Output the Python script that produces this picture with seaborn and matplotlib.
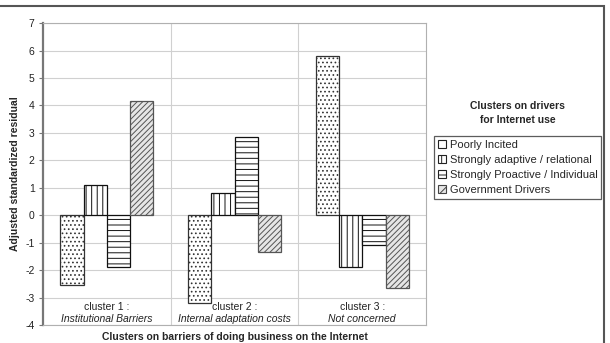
import numpy as np
import pandas as pd
import matplotlib
matplotlib.use('Agg')
import matplotlib.pyplot as plt
import seaborn as sns
from matplotlib.patches import Patch, Rectangle

# chart data
clusters = ['cluster 1', 'cluster 2', 'cluster 3']
cluster_names = ['Institutional Barriers', 'Internal adaptation costs', 'Not concerned']
drivers = ['Poorly Incited', 'Strongly adaptive / relational',
           'Strongly Proactive / Individual', 'Government Drivers']
poorly_incited = [-2.55, -3.2, 5.8]
strongly_adaptive = [1.1, 0.8, -1.9]
strongly_proactive = [-1.9, 2.85, -1.07]
government_drivers = [4.15, -1.35, -2.67]
y_ticks = list(range(-4, 8))

# long table for seaborn
rows = []
for name, vals in zip(drivers, [poorly_incited, strongly_adaptive,
                                strongly_proactive, government_drivers]):
    for c, v in zip(clusters, vals):
        rows.append({'cluster': c, 'driver': name, 'residual': v})
df = pd.DataFrame(rows)

sns.set_style('white')
plt.rcParams['font.family'] = ['Liberation Sans', 'DejaVu Sans']
plt.rcParams['hatch.linewidth'] = 0.7

fig = plt.figure(figsize=(6.1, 3.43), dpi=100)
ax = fig.add_axes([0.0705, 0.0525, 0.628, 0.880])

sns.barplot(data=df, x='cluster', y='residual', hue='driver', order=clusters,
            hue_order=drivers, width=0.73, ax=ax, legend=False,
            errorbar=None, saturation=1)

styles = [
    dict(face='white', edge='#333333', hatch='....'),
    dict(face='white', edge='#111111', hatch='|||'),
    dict(face='white', edge='#111111', hatch='---'),
    dict(face='#e6e6e6', edge='#555555', hatch='//////'),
]
for cont, st in zip(ax.containers, styles):
    for p in cont.patches:
        p.set_facecolor(st['face'])
        p.set_edgecolor(st['edge'])
        p.set_hatch(st['hatch'])
        p.set_linewidth(0.9)
        p.set_zorder(3)

ax.set_ylim(-4, 7)
ax.set_xlim(-0.5, 2.5)
ax.set_yticks(y_ticks)
ax.set_yticklabels([str(t) for t in y_ticks], fontsize=7.5, color='#222222')
ax.set_xticks([])
ax.set_xlabel('')
ax.set_ylabel('Adjusted standardized residual', fontsize=7.5,
              fontweight='bold', labelpad=4)
ax.tick_params(axis='y', direction='out', length=3, width=0.8,
               color='#777777', pad=3, left=True)

# grid and category separators
for t in y_ticks:
    ax.axhline(t, color='#d0d0d0', lw=0.8, zorder=0)
for xb in [0.5, 1.5]:
    ax.axvline(xb, color='#d0d0d0', lw=0.8, zorder=0)

for side in ['top', 'right', 'bottom']:
    ax.spines[side].set_color('#b0b0b0')
    ax.spines[side].set_linewidth(0.8)
ax.spines['left'].set_color('#777777')
ax.spines['left'].set_linewidth(1.6)

# category labels inside plot area
for i, (c, nm) in enumerate(zip(clusters, cluster_names)):
    ax.text(i, -3.33, c + ' :', ha='center', va='center', fontsize=7.5,
            color='#222222', zorder=4)
    ax.text(i, -3.78, nm, ha='center', va='center', fontsize=7.5,
            style='italic', color='#222222', zorder=4)

fig.text(0.3845, 0.004, 'Clusters on barriers of doing business on the Internet',
         ha='center', va='bottom', fontsize=7.5, fontweight='bold')

# legend
handles = [
    Patch(facecolor='white', edgecolor='#222222', linewidth=0.8, label=drivers[0]),
    Patch(facecolor='white', edgecolor='#222222', hatch='|', linewidth=0.8,
          label=drivers[1]),
    Patch(facecolor='white', edgecolor='#222222', hatch='-', linewidth=0.8,
          label=drivers[2]),
    Patch(facecolor='#e6e6e6', edgecolor='#444444', hatch='///', linewidth=0.8,
          label=drivers[3]),
]
leg = fig.legend(handles=handles, loc='upper left', bbox_to_anchor=(0.711, 0.603),
                 fontsize=8, frameon=True, fancybox=False, handlelength=0.75,
                 handleheight=0.75, handletextpad=0.35, borderpad=0.35,
                 labelspacing=0.45, borderaxespad=0)
leg.get_frame().set_edgecolor('#333333')
leg.get_frame().set_linewidth(0.9)

fig.text(0.849, 0.671, 'Clusters on drivers\nfor Internet use', ha='center',
         va='center', fontsize=7.5, fontweight='bold', linespacing=1.5)

# outer chart frame (top and right edges visible)
fig.patches.append(Rectangle((-0.01, -0.1), 1.0, 1.1 - 6 / 343,
                             transform=fig.transFigure, fill=False,
                             edgecolor='#555555', linewidth=1.5))

fig.savefig('out.png', dpi=100)
